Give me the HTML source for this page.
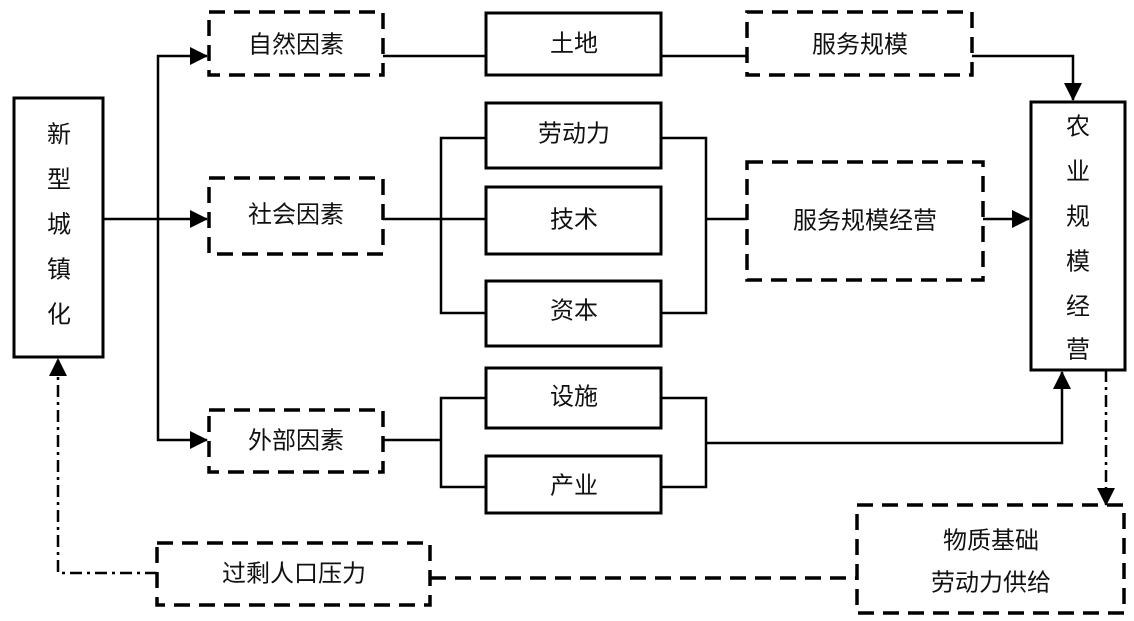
<!DOCTYPE html>
<html><head><meta charset="utf-8"><style>
html,body{margin:0;padding:0;background:#fff;}
svg{display:block;}
text{font-family:"Liberation Sans","Noto Sans CJK SC",sans-serif;font-size:24px;fill:#111;text-anchor:middle;dominant-baseline:central;}
</style></head><body>
<svg width="1134" height="621" viewBox="0 0 1134 621" xmlns="http://www.w3.org/2000/svg">
<defs>
<marker id="b" markerWidth="18" markerHeight="18" refX="17" refY="9" orient="auto" markerUnits="userSpaceOnUse" viewBox="0 0 18 18"><path d="M0,0 L18,9 L0,18 z" fill="#000"/></marker>
</defs>
<g fill="none" stroke="#000" stroke-width="3">
<rect x="14" y="98" width="89" height="259"/>
<rect x="1031" y="102" width="94" height="268"/>
<rect x="486" y="13" width="175" height="62"/>
<rect x="486" y="103" width="175" height="65"/>
<rect x="486" y="187" width="175" height="67"/>
<rect x="486" y="281" width="175" height="65"/>
<rect x="486" y="368" width="175" height="60"/>
<rect x="486" y="456" width="175" height="57"/>
</g>
<g fill="none" stroke="#000" stroke-width="3.5" stroke-dasharray="16,9">
<rect x="209" y="12" width="174" height="63"/>
<rect x="209" y="178" width="174" height="76"/>
<rect x="209" y="410" width="174" height="62"/>
<rect x="747" y="12" width="225" height="63"/>
<rect x="747" y="162" width="236" height="118"/>
<rect x="857" y="505" width="267" height="108"/>
<rect x="157" y="543" width="273" height="62"/>
<path d="M430,578 H857"/>
</g>
<g fill="none" stroke="#000" stroke-width="2.5">
<path d="M103,219 H158 V56 H207" marker-end="url(#b)"/>
<path d="M158,219 H207" marker-end="url(#b)"/>
<path d="M158,219 V440 H207" marker-end="url(#b)"/>
<path d="M383,56 H486"/>
<path d="M661,56 H747"/>
<path d="M972,56 H1073 V100" marker-end="url(#b)"/>
<path d="M383,219 H486"/>
<path d="M486,138 H441 V313 H486"/>
<path d="M661,138 H706 V313 H661"/>
<path d="M706,219 H747"/>
<path d="M983,219 H1029" marker-end="url(#b)"/>
<path d="M383,440 H441"/>
<path d="M486,398 H441 V487 H486"/>
<path d="M661,398 H706 V487 H661"/>
<path d="M706,443 H1062 V372" marker-end="url(#b)"/>
<path d="M1106,370 V505" stroke-dasharray="12,5,3,5" marker-end="url(#b)"/>
<path d="M157,573 H58 V359" stroke-dasharray="12,5,3,5" marker-end="url(#b)"/>
</g>
<text x="59" y="135">新</text><text x="59" y="180">型</text><text x="59" y="225">城</text><text x="59" y="270">镇</text><text x="59" y="315">化</text>
<text x="1078" y="127">农</text><text x="1078" y="172">业</text><text x="1078" y="217">规</text><text x="1078" y="262">模</text><text x="1078" y="307">经</text><text x="1078" y="350">营</text>
<text x="296" y="45">自然因素</text>
<text x="296" y="215">社会因素</text>
<text x="296" y="441">外部因素</text>
<text x="574" y="44">土地</text>
<text x="574" y="134">劳动力</text>
<text x="574" y="220">技术</text>
<text x="574" y="311">资本</text>
<text x="574" y="397">设施</text>
<text x="574" y="486">产业</text>
<text x="860" y="45">服务规模</text>
<text x="865" y="221">服务规模经营</text>
<text x="991" y="541">物质基础</text>
<text x="991" y="583">劳动力供给</text>
<text x="294" y="574">过剩人口压力</text>
</svg>
</body></html>
